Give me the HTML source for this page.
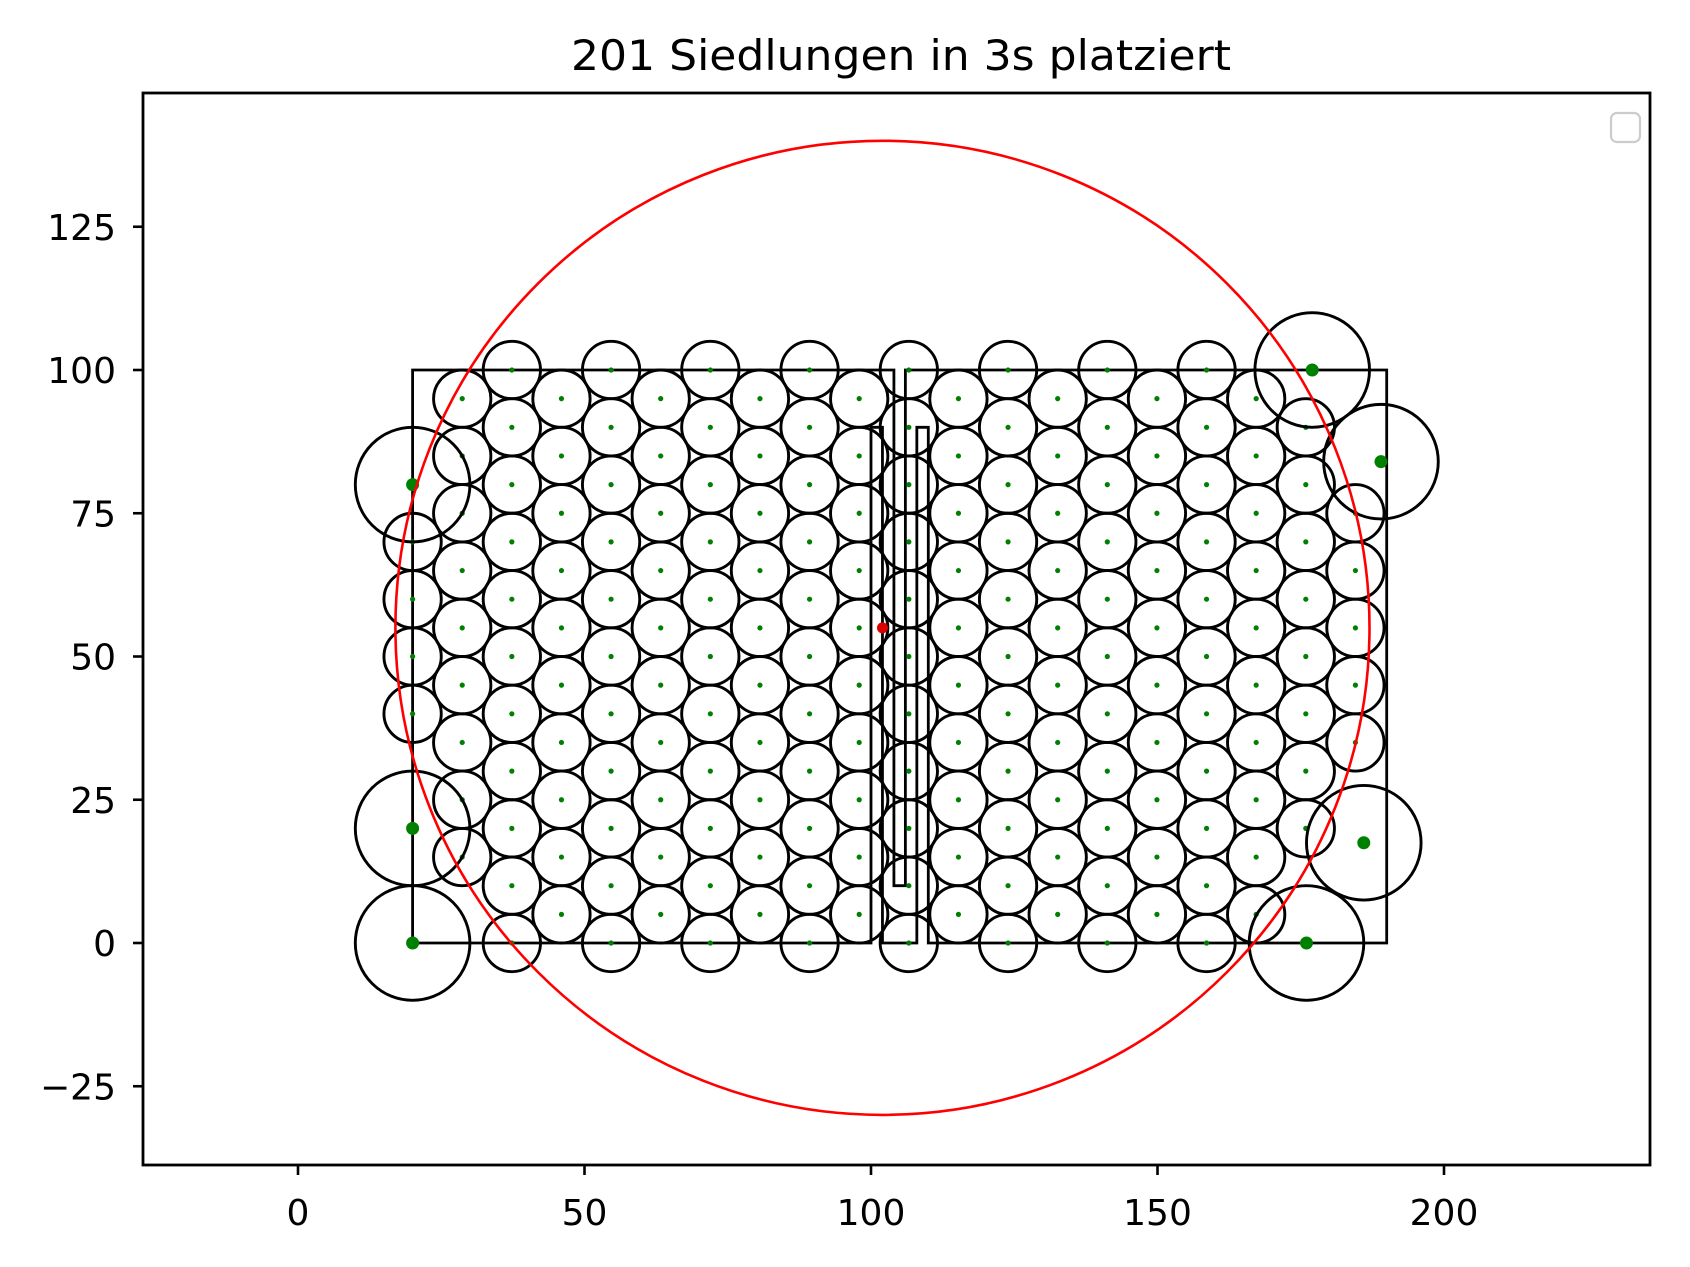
<!DOCTYPE html>
<html><head><meta charset="utf-8"><style>
html,body{margin:0;padding:0;background:#fff;}
svg{display:block;font-family:"DejaVu Sans","Liberation Sans",sans-serif;}
</style></head><body>
<svg id="chart" width="1690" height="1267" viewBox="0 0 1690 1267" xmlns="http://www.w3.org/2000/svg">
<rect x="0" y="0" width="1690" height="1267" fill="#fff"/>
<text x="901" y="70" font-size="42" text-anchor="middle" fill="#000" textLength="660" lengthAdjust="spacingAndGlyphs">201 Siedlungen in 3s platziert</text>
<g id="plot"></g>
<g id="axes"></g>
</svg>
<script>
// ---- data ----
const xTicks = [0, 50, 100, 150, 200];
const yTicks = [-25, 0, 25, 50, 75, 100, 125];
// area polygon (map units)
const areaX = [20, 100, 100, 102, 102, 108, 108, 110, 110, 190, 190, 106, 106, 104, 104, 20];
const areaY = [0, 0, 90, 90, 0, 0, 90, 90, 0, 0, 100, 100, 10, 10, 100, 100];
// regular settlements (radius 5) on hex grid, columns x and their y lists
const colX = [20, 28.66, 37.32, 45.98, 54.64, 63.3, 71.96, 80.62, 89.28, 97.94, 106.6, 115.26, 123.92, 132.58, 141.24, 149.9, 158.56, 167.22, 175.88, 184.54];
const colYs = [
  [40, 50, 60, 70],
  [15, 25, 35, 45, 55, 65, 75, 85, 95],
  [0,10,20,30,40,50,60,70,80,90,100],
  [5,15,25,35,45,55,65,75,85,95],
  [0,10,20,30,40,50,60,70,80,90,100],
  [5,15,25,35,45,55,65,75,85,95],
  [0,10,20,30,40,50,60,70,80,90,100],
  [5,15,25,35,45,55,65,75,85,95],
  [0,10,20,30,40,50,60,70,80,90,100],
  [5,15,25,35,45,55,65,75,85,95],
  [0,10,20,30,40,50,60,70,80,90,100],
  [5,15,25,35,45,55,65,75,85,95],
  [0,10,20,30,40,50,60,70,80,90,100],
  [5,15,25,35,45,55,65,75,85,95],
  [0,10,20,30,40,50,60,70,80,90,100],
  [5,15,25,35,45,55,65,75,85,95],
  [0,10,20,30,40,50,60,70,80,90,100],
  [5,15,25,35,45,55,65,75,85,95],
  [20,30,40,50,60,70,80,90],
  [35,45,55,65,75]
];
const smallR = 5;
// large settlements (radius 10)
const bigX = [20, 20, 20, 176, 177, 189, 186];
const bigY = [0, 20, 80, 0, 100, 84, 17.5];
const bigR = 10;
// center & range circle
const centerX = 102, centerY = 55, rangeR = 85;

// ---- scales ----
const X0 = 298, Y0 = 943, K = 5.73;
const sx = u => X0 + u * K;
const sy = v => Y0 - v * K;
const NS = "http://www.w3.org/2000/svg";
const plot = document.getElementById('plot');
const axes = document.getElementById('axes');
function mk(tag, attrs, parent){
  const e = document.createElementNS(NS, tag);
  for (const k in attrs) e.setAttribute(k, attrs[k]);
  parent.appendChild(e);
  return e;
}
// area polygon
const pts = areaX.map((x,i)=>sx(x)+','+sy(areaY[i])).join(' ');
const poly = mk('polygon', {points: pts, fill:'none', stroke:'#000', 'stroke-width':2.8}, plot);


// small settlements
colX.forEach((cx, i) => {
  colYs[i].forEach(cy => {
    const c = mk('circle', {cx: sx(cx), cy: sy(cy), r: smallR*K, fill:'none', stroke:'#000', 'stroke-width':2.9}, plot);
    
    
    const d = mk('circle', {cx: sx(cx), cy: sy(cy), r: 2.6, fill:'#008000'}, plot);
    
    
  });
});
// big settlements
bigX.forEach((bx, i) => {
  const c = mk('circle', {cx: sx(bx), cy: sy(bigY[i]), r: bigR*K, fill:'none', stroke:'#000', 'stroke-width':2.9}, plot);
  
  
  const d = mk('circle', {cx: sx(bx), cy: sy(bigY[i]), r: 6.5, fill:'#008000'}, plot);
  
  
});
// range circle
const rc = mk('circle', {cx: sx(centerX), cy: sy(centerY), r: rangeR*K, fill:'none', stroke:'#ff0000', 'stroke-width':2.6}, plot);


const cp = mk('circle', {cx: sx(centerX), cy: sy(centerY), r: 5.5, fill:'#dd0000'}, plot);



// axes frame
const frame = mk('rect', {x:143, y:93, width:1507, height:1072, fill:'none', stroke:'#000', 'stroke-width':2.8}, axes);


xTicks.forEach(t => {
  const x = sx(t);
  const l = mk('line', {x1:x, y1:1165, x2:x, y2:1175, stroke:'#000', 'stroke-width':2.6}, axes);
  
  
  const tx = mk('text', {x:x, y:1225, 'font-size':36, 'text-anchor':'middle', fill:'#000'}, axes);
  tx.textContent = String(t);
  
  
});
yTicks.forEach(t => {
  const y = sy(t);
  const l = mk('line', {x1:133, y1:y, x2:143, y2:y, stroke:'#000', 'stroke-width':2.6}, axes);
  
  
  const tx = mk('text', {x:116, y:y+13, 'font-size':36, 'text-anchor':'end', fill:'#000'}, axes);
  tx.textContent = (t < 0 ? '\u2212' + Math.abs(t) : String(t));
  
  
});
// empty legend box
const lg = mk('rect', {x:1611, y:113, width:29, height:29, rx:6, fill:'#fff', stroke:'#cccccc', 'stroke-width':2.2}, axes);


</script>
</body></html>
